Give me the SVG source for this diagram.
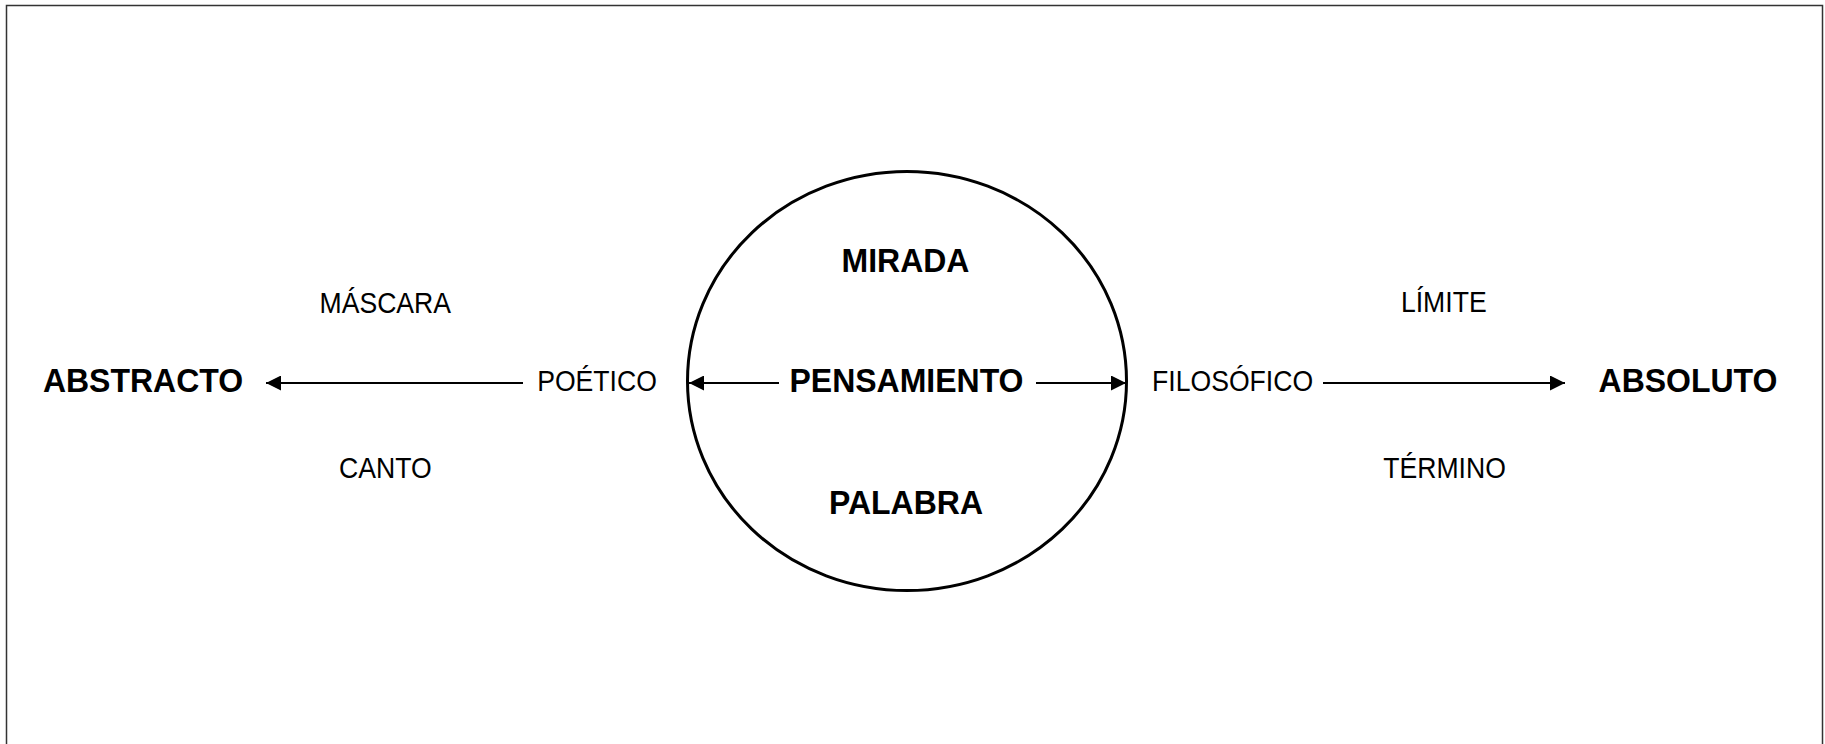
<svg xmlns="http://www.w3.org/2000/svg" width="1825" height="744" viewBox="0 0 1825 744">
<style>
.b{font-family:"Liberation Sans",Arial,sans-serif;font-weight:bold;font-size:32px;fill:#000;text-anchor:middle}
.r{font-family:"Liberation Sans",Arial,sans-serif;font-size:26.6px;fill:#000;text-anchor:middle}
.ln{stroke:#000;stroke-width:2;fill:none}
</style>
<defs>
<marker id="ah" viewBox="0 0 10 10" refX="10" refY="5" markerWidth="15" markerHeight="15" markerUnits="userSpaceOnUse" orient="auto">
<path d="M0,0 L10,5 L0,10 z" fill="#000"/>
</marker>
</defs>
<rect x="0" y="0" width="1825" height="744" fill="#fff"/>
<rect x="6.5" y="5.5" width="1816" height="800" fill="none" stroke="#333" stroke-width="1.5"/>
<g id="circle">
<ellipse cx="907" cy="381" rx="219.5" ry="209.5" fill="none" stroke="#000" stroke-width="3"/>
</g>
<g id="connectors">
<line class="ln" x1="523" y1="383" x2="266" y2="383" marker-end="url(#ah)"/>
<line class="ln" x1="779" y1="383" x2="689" y2="383" marker-end="url(#ah)"/>
<line class="ln" x1="1036" y1="383" x2="1126" y2="383" marker-end="url(#ah)"/>
<line class="ln" x1="1323" y1="383" x2="1565" y2="383" marker-end="url(#ah)"/>
</g>
<g id="abstracto"><text class="b" transform="translate(143,392) scale(1,1.04)">ABSTRACTO</text></g>
<g id="absoluto"><text class="b" transform="translate(1688,392) scale(1,1.04)">ABSOLUTO</text></g>
<g id="pensamiento"><text class="b" transform="translate(906.5,392) scale(1,1.04)">PENSAMIENTO</text></g>
<g id="mirada"><text class="b" transform="translate(905.5,272) scale(1,1.04)">MIRADA</text></g>
<g id="palabra"><text class="b" transform="translate(906,514) scale(1,1.04)">PALABRA</text></g>
<g id="poetico"><text class="r" transform="translate(597,391) scale(1,1.1)">POÉTICO</text></g>
<g id="filosofico"><text class="r" transform="translate(1232.6,391) scale(1,1.1)">FILOSÓFICO</text></g>
<g id="mascara"><text class="r" transform="translate(385.3,313) scale(1,1.1)">MÁSCARA</text></g>
<g id="canto"><text class="r" transform="translate(385.3,478) scale(1,1.1)">CANTO</text></g>
<g id="limite"><text class="r" transform="translate(1443.8,312) scale(1,1.1)">LÍMITE</text></g>
<g id="termino"><text class="r" transform="translate(1444.5,478) scale(1,1.1)">TÉRMINO</text></g>
</svg>
